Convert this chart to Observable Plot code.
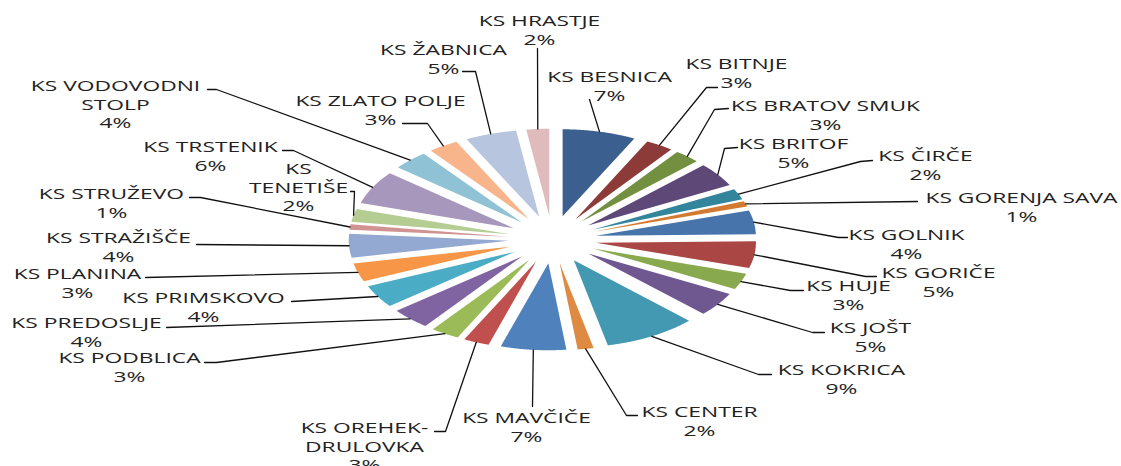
<!DOCTYPE html>
<html>
<head>
<meta charset="utf-8">
<script src="https://cdn.jsdelivr.net/npm/d3@7"></script>
<script src="https://cdn.jsdelivr.net/npm/@observablehq/plot@0.6"></script>
<style>
  html, body { margin: 0; padding: 0; background: #fff; overflow: hidden; }
  #chart svg { display: block; }
</style>
</head>
<body>
<div id="chart"></div>
<script>
// ---------- data ----------
const categories = [
  "KS BESNICA", "KS BITNJE", "KS BRATOV SMUK", "KS BRITOF", "KS ČIRČE",
  "KS GORENJA SAVA", "KS GOLNIK", "KS GORIČE", "KS HUJE", "KS JOŠT",
  "KS KOKRICA", "KS CENTER", "KS MAVČIČE", "KS OREHEK-\nDRULOVKA", "KS PODBLICA",
  "KS PREDOSLJE", "KS PRIMSKOVO", "KS PLANINA", "KS STRAŽIŠČE", "KS STRUŽEVO",
  "KS\nTENETIŠE", "KS TRSTENIK", "KS VODOVODNI\nSTOLP", "KS ZLATO POLJE", "KS ŽABNICA",
  "KS HRASTJE"
];
// share of total, % (labels show rounded values)
const shares = [
  7.4, 2.8, 2.6, 4.5, 2.0,
  1.0, 4.4, 5.0, 3.0, 4.5,
  9.4, 1.6, 6.6, 2.6, 2.9,
  4.0, 4.2, 3.4, 4.4, 1.0,
  2.4, 6.2, 3.6, 3.0, 5.2,
  2.3
];
const colors = [
  "#3b5f8e", "#8c3b38", "#72903f", "#5d4878", "#32859b",
  "#d27a30", "#4674ab", "#aa4744", "#89a94f", "#6f5890",
  "#4399b1", "#de8a42", "#4f81bd", "#c0504d", "#9bbb59",
  "#8064a2", "#4bacc6", "#f79646", "#93a9d1", "#d09392",
  "#b5cd93", "#a797bd", "#8ec2d4", "#f8b48b", "#b8c5df",
  "#dfbbbb"
];

// ---------- layout (pixels) ----------
const W = 1121, H = 466;
const CX = 552, CY = 239, RX = 160, RY = 87, EXPLODE = 0.274;
const LINE_H = 18.2, FONT = 14, STRETCH = 1.63;
// label: first-line centre [x, y]; leader start [x, y]; optional bend [x, y]
const labelLayout = [
  [609, 76, 589, 99],
  [736, 63, 717, 87, 706, 87],
  [825, 105, 728, 108, 714, 109],
  [793, 143, 737, 147, 724, 148],
  [925, 155, 872, 160, 860, 161],
  [1021, 197, 917, 201],
  [906, 234, 847, 237, 838, 237],
  [938, 272, 876, 276, 865, 276],
  [848, 285, 803, 290, 790, 290],
  [870, 327, 824, 332, 812, 332],
  [841, 369, 771, 374, 758, 374],
  [699, 411, 637, 415, 626, 415],
  [526, 417, 532, 406],
  [364, 427, 434, 431, 445, 431],
  [129, 357, 204, 362, 216, 362],
  [86, 322, 166, 327],
  [203, 297, 291, 301],
  [77, 273, 145, 277],
  [118, 237, 196, 244],
  [111, 193, 189, 197, 200, 197],
  [298, 168, 350, 191, 354, 191],
  [210, 146, 282, 150, 293, 150],
  [115, 85, 207, 89, 216, 89],
  [380, 100, 402, 123, 427, 123],
  [443, 49, 462, 71, 475, 71],
  [539, 20, 537, 48]
];

const ux = px => (px - CX) / RX;
const uy = py => (py - CY) / RY;

// ---------- geometry from data ----------
const arcs = d3.pie().sort(null).value(d => d)(shares);
const slicePts = [];
const leaderPts = [];
const labels = [];
arcs.forEach((a, i) => {
  const name = categories[i];
  const mid = (a.startAngle + a.endAngle) / 2;
  const ox = EXPLODE * Math.sin(mid), oy = -EXPLODE * Math.cos(mid);
  slicePts.push({name, color: colors[i], x: ox, y: oy});
  const n = Math.max(2, Math.ceil((a.endAngle - a.startAngle) / 0.005) + 1);
  for (let k = 0; k < n; k++) {
    const t = a.startAngle + (a.endAngle - a.startAngle) * k / (n - 1);
    slicePts.push({name, color: colors[i], x: ox + Math.sin(t), y: oy - Math.cos(t)});
  }
  const L = labelLayout[i];
  const text = name + "\n" + Math.round(shares[i]) + "%";
  const nl = text.split("\n").length;
  labels.push({text, x: ux(L[0]), y: uy(L[1] + (nl - 1) * LINE_H / 2)});
  leaderPts.push({name, x: ux(L[2]), y: uy(L[3])});
  if (L.length > 4) leaderPts.push({name, x: ux(L[4]), y: uy(L[5])});
  leaderPts.push({name, x: (1 + EXPLODE) * Math.sin(mid), y: -(1 + EXPLODE) * Math.cos(mid)});
});

const svg = Plot.plot({
  width: W,
  height: H,
  margin: 0,
  style: {background: "#fff"},
  x: {domain: [ux(0), ux(W)], range: [0, W], axis: null},
  y: {domain: [uy(0), uy(H)], range: [0, H], axis: null},
  color: {type: "identity"},
  marks: [
    Plot.line(slicePts, {x: "x", y: "y", z: "name", fill: "color", stroke: "none", curve: "linear"}),
    Plot.line(leaderPts, {x: "x", y: "y", z: "name", stroke: "#111", strokeWidth: 1.3, curve: "linear"}),
    Plot.text(labels, {
      x: "x", y: "y", text: "text",
      fontSize: FONT, fontFamily: "Open Sans", lineHeight: LINE_H / FONT,
      textAnchor: "middle", lineAnchor: "middle", fill: "#222"
    })
  ]
});

// widen label glyphs like the stretched original
d3.select(svg).selectAll('g[aria-label="text"] text').each(function () {
  const t = this.getAttribute("transform");
  if (t) this.setAttribute("transform", t + ` scale(${STRETCH},1)`);
  else {
    const x = +this.getAttribute("x") || 0, y = +this.getAttribute("y") || 0;
    this.removeAttribute("x"); this.removeAttribute("y");
    this.setAttribute("transform", `translate(${x},${y}) scale(${STRETCH},1)`);
  }
});

document.getElementById("chart").appendChild(svg);
</script>
</body>
</html>
